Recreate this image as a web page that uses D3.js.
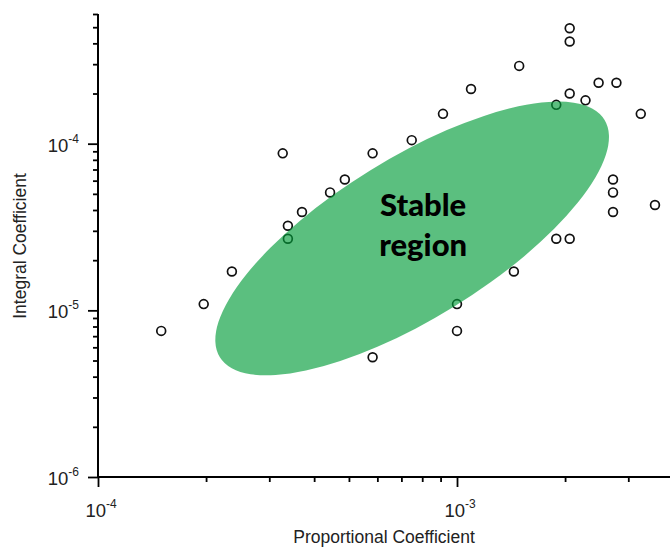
<!DOCTYPE html>
<html>
<head>
<meta charset="utf-8">
<script src="https://cdn.jsdelivr.net/npm/d3@7"></script>
<style>
body { margin: 0; background: #fff; }
svg { display: block; }
</style>
</head>
<body>
<svg id="chart" width="670" height="548"></svg>
<script>
// Proportional / integral coefficient pairs
var propCoef = [1.50e-4, 1.97e-4, 2.36e-4, 3.27e-4, 3.38e-4, 3.38e-4, 3.70e-4, 4.43e-4, 4.87e-4, 5.82e-4,
                5.82e-4, 7.48e-4, 9.14e-4, 1.00e-3, 1.00e-3, 1.094e-3, 1.44e-3, 1.49e-3, 1.89e-3, 1.89e-3,
                2.06e-3, 2.06e-3, 2.06e-3, 2.06e-3, 2.28e-3, 2.48e-3, 2.72e-3, 2.72e-3, 2.72e-3, 2.78e-3,
                3.25e-3, 3.56e-3];
var intCoef  = [7.53e-6, 1.09e-5, 1.71e-5, 8.75e-5, 3.22e-5, 2.69e-5, 3.89e-5, 5.10e-5, 6.10e-5, 8.75e-5,
                5.23e-6, 1.05e-4, 1.51e-4, 1.09e-5, 7.53e-6, 2.13e-4, 1.71e-5, 2.93e-4, 1.71e-4, 2.69e-5,
                4.93e-4, 4.10e-4, 2.00e-4, 2.69e-5, 1.82e-4, 2.32e-4, 6.10e-5, 5.10e-5, 3.89e-5, 2.32e-4,
                1.51e-4, 4.29e-5];

var xDomain = [1e-4, 3.92e-3];
var yDomain = [1e-6, 6e-4];
var xMajor = [1e-4, 1e-3];
var yMajor = [1e-6, 1e-5, 1e-4];
var xLabels = ["-4", "-3"];
var yLabels = ["-6", "-5", "-4"];

// stable region: centre in data units
var regionCenter = [7.5e-4, 2.7e-5];
var regionText = ["Stable", "region"];

var svg = d3.select("#chart");

var x = d3.scaleLog().domain(xDomain).range([98, 670]);
var y = d3.scaleLog().domain(yDomain).range([477, 14]);

// minor + major ticks
function logTicks(dom) {
	var t = [];
	for (var e = Math.floor(Math.log10(dom[0])); e <= Math.ceil(Math.log10(dom[1])); e++) {
		for (var m = 1; m < 10; m++) {
			var v = m * Math.pow(10, e);
			if (v >= dom[0] * 0.999 && v <= dom[1] * 1.001) t.push(v);
		}
	}
	return t;
}
function isMajor(v) {
	var l = Math.log10(v);
	return Math.abs(l - Math.round(l)) < 1e-6;
}

// points (drawn under the region so they tint green where covered)
svg.append("g")
	.selectAll("circle")
	.data(propCoef)
	.enter()
	.append("circle")
	.attr("cx", function(d){ return x(d); })
	.attr("cy", function(d, i){ return y(intCoef[i]); })
	.attr("r", 4.4)
	.attr("fill", "none")
	.attr("stroke", "#111")
	.attr("stroke-width", 1.7);

// stable region
svg.append("ellipse")
	.attr("transform", "translate(" + x(regionCenter[0]) + "," + y(regionCenter[1]) + ") rotate(-31.7)")
	.attr("rx", 226)
	.attr("ry", 80)
	.attr("fill", "rgb(3,157,58)")
	.attr("fill-opacity", 0.65);

svg.append("g")
	.selectAll("text")
	.data(regionText)
	.enter()
	.append("text")
	.attr("x", x(regionCenter[0]) + 11)
	.attr("y", function(d, i){ return y(regionCenter[1]) - 22 + i * 40; })
	.attr("text-anchor", "middle")
	.style("font-family", "Lato, 'Open Sans', sans-serif")
	.style("font-weight", 900)
	.style("font-size", "31px")
	.attr("fill", "#000")
	.text(function(d){ return d; });

// y axis
var yAxis = svg.append("g")
	.attr("transform", "translate(98,0)")
	.call(d3.axisLeft(y).tickValues(logTicks(yDomain)).tickSize(5).tickFormat(""));
// x axis
var xAxis = svg.append("g")
	.attr("transform", "translate(0,477)")
	.call(d3.axisBottom(x).tickValues(logTicks(xDomain)).tickSize(5).tickFormat(""));

[yAxis, xAxis].forEach(function(ax){
	ax.select(".domain").attr("stroke", "#000").attr("stroke-width", 2);
	ax.selectAll(".tick line").attr("stroke", "#000").attr("stroke-width", 1.8);
});
yAxis.select(".domain").attr("d", "M0,477V14");
xAxis.select(".domain").attr("d", "M98,0H670");
yAxis.selectAll(".tick line").filter(function(d){ return isMajor(d); }).attr("x2", -10);
xAxis.selectAll(".tick line").filter(function(d){ return isMajor(d); }).attr("y2", 10);

// tick labels 10^n
var lblFont = "'Liberation Sans', Arial, sans-serif";
yMajor.forEach(function(v, i){
	var t = svg.append("text")
		.attr("x", 79)
		.attr("y", y(v) + 8)
		.attr("text-anchor", "end")
		.style("font-family", lblFont)
		.style("font-size", "18.5px")
		.attr("fill", "#222");
	t.append("tspan").text("10");
	t.append("tspan").attr("dy", -9).style("font-size", "12px").text(yLabels[i]);
});
xMajor.forEach(function(v, i){
	var t = svg.append("text")
		.attr("x", x(v) + 3)
		.attr("y", 517)
		.attr("text-anchor", "middle")
		.style("font-family", lblFont)
		.style("font-size", "18.5px")
		.attr("fill", "#222");
	t.append("tspan").text("10");
	t.append("tspan").attr("dy", -9).style("font-size", "12px").text(xLabels[i]);
});

// axis titles
svg.append("text")
	.attr("transform", "translate(26,246) rotate(-90)")
	.attr("text-anchor", "middle")
	.style("font-family", lblFont)
	.style("font-size", "17.5px")
	.attr("fill", "#222")
	.text("Integral Coefficient");

svg.append("text")
	.attr("x", 384)
	.attr("y", 543)
	.attr("text-anchor", "middle")
	.style("font-family", lblFont)
	.style("font-size", "17.5px")
	.attr("fill", "#222")
	.text("Proportional Coefficient");
</script>
</body>
</html>
